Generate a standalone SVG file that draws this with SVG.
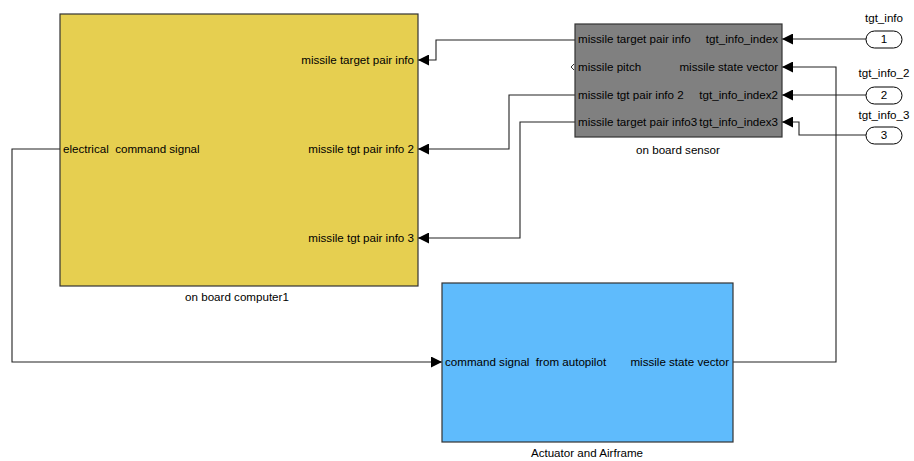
<svg xmlns="http://www.w3.org/2000/svg" width="914" height="461" viewBox="0 0 914 461">
  <style>
    text { font-family: "Liberation Sans", Arial, sans-serif; font-size: 11.6px; fill: #000; white-space: pre; }
    .blk { stroke: #333; stroke-width: 1.2; }
    .wire { fill: none; stroke: #222; stroke-width: 1.1; }
    .r { text-anchor: end; }
    .c { text-anchor: middle; }
    .port { fill: #fff; stroke: #000; stroke-width: 1; }
  </style>
  <defs>
    <marker id="arr" viewBox="0 0 11 11" refX="11" refY="5.5" markerWidth="11" markerHeight="11" markerUnits="userSpaceOnUse" orient="auto">
      <path d="M0,0 L11,5.5 L0,11 Z" fill="#000"/>
    </marker>
  </defs>
  <rect width="914" height="461" fill="#fff"/>

  <!-- connectors -->
  <g id="connectors">
    <polyline class="wire" points="575,40 436,40 436,60 418,60" marker-end="url(#arr)"/>
    <polyline class="wire" points="575,95 509,95 509,149 418,149" marker-end="url(#arr)"/>
    <polyline class="wire" points="575,122 520,122 520,238 418,238" marker-end="url(#arr)"/>
    <polyline class="wire" points="60,149 12,149 12,362 442,362" marker-end="url(#arr)"/>
    <polyline class="wire" points="733,362 836,362 836,67 782,67" marker-end="url(#arr)"/>
    <polyline class="wire" points="866,39 782,39" marker-end="url(#arr)"/>
    <polyline class="wire" points="866,95 782,95" marker-end="url(#arr)"/>
    <polyline class="wire" points="866,135 799,135 799,122 782,122" marker-end="url(#arr)"/>
  </g>

  <!-- on board computer -->
  <g id="on-board-computer1">
    <rect class="blk" x="60" y="14" width="358" height="272" fill="#E6CF50"/>
    <text x="63" y="153">electrical  command signal</text>
    <text class="r" x="414" y="64">missile target pair info</text>
    <text class="r" x="414" y="153">missile tgt pair info 2</text>
    <text class="r" x="414" y="242">missile tgt pair info 3</text>
    <text class="c" x="237" y="301">on board computer1</text>
  </g>

  <!-- on board sensor -->
  <g id="on-board-sensor">
    <rect class="blk" x="575" y="24" width="207" height="113" fill="#808080"/>
    <polyline points="574,64 571,67 574,70" fill="none" stroke="#000" stroke-width="0.8"/>
    <text x="578" y="43">missile target pair info</text>
    <text x="578" y="71">missile pitch</text>
    <text x="578" y="99">missile tgt pair info 2</text>
    <text x="578" y="126">missile target pair info3</text>
    <text class="r" x="778" y="43">tgt_info_index</text>
    <text class="r" x="778" y="71">missile state vector</text>
    <text class="r" x="778" y="99">tgt_info_index2</text>
    <text class="r" x="778" y="126">tgt_info_index3</text>
    <text class="c" x="678" y="154">on board sensor</text>
  </g>

  <!-- actuator and airframe -->
  <g id="actuator-and-airframe">
    <rect class="blk" x="442" y="283" width="291" height="159" fill="#5FBBFC"/>
    <text x="445" y="366">command signal  from autopilot</text>
    <text class="r" x="729" y="366">missile state vector</text>
    <text class="c" x="587" y="457">Actuator and Airframe</text>
  </g>

  <!-- inports -->
  <g id="inport-1">
    <rect class="port" x="866" y="31" width="36" height="17" rx="8.5"/>
    <text class="c" x="884" y="43">1</text>
    <text class="c" x="884" y="22">tgt_info</text>
  </g>
  <g id="inport-2">
    <rect class="port" x="866" y="87" width="36" height="17" rx="8.5"/>
    <text class="c" x="884" y="99">2</text>
    <text class="c" x="884" y="77">tgt_info_2</text>
  </g>
  <g id="inport-3">
    <rect class="port" x="866" y="127" width="36" height="17" rx="8.5"/>
    <text class="c" x="884" y="139">3</text>
    <text class="c" x="884" y="119">tgt_info_3</text>
  </g>
</svg>
